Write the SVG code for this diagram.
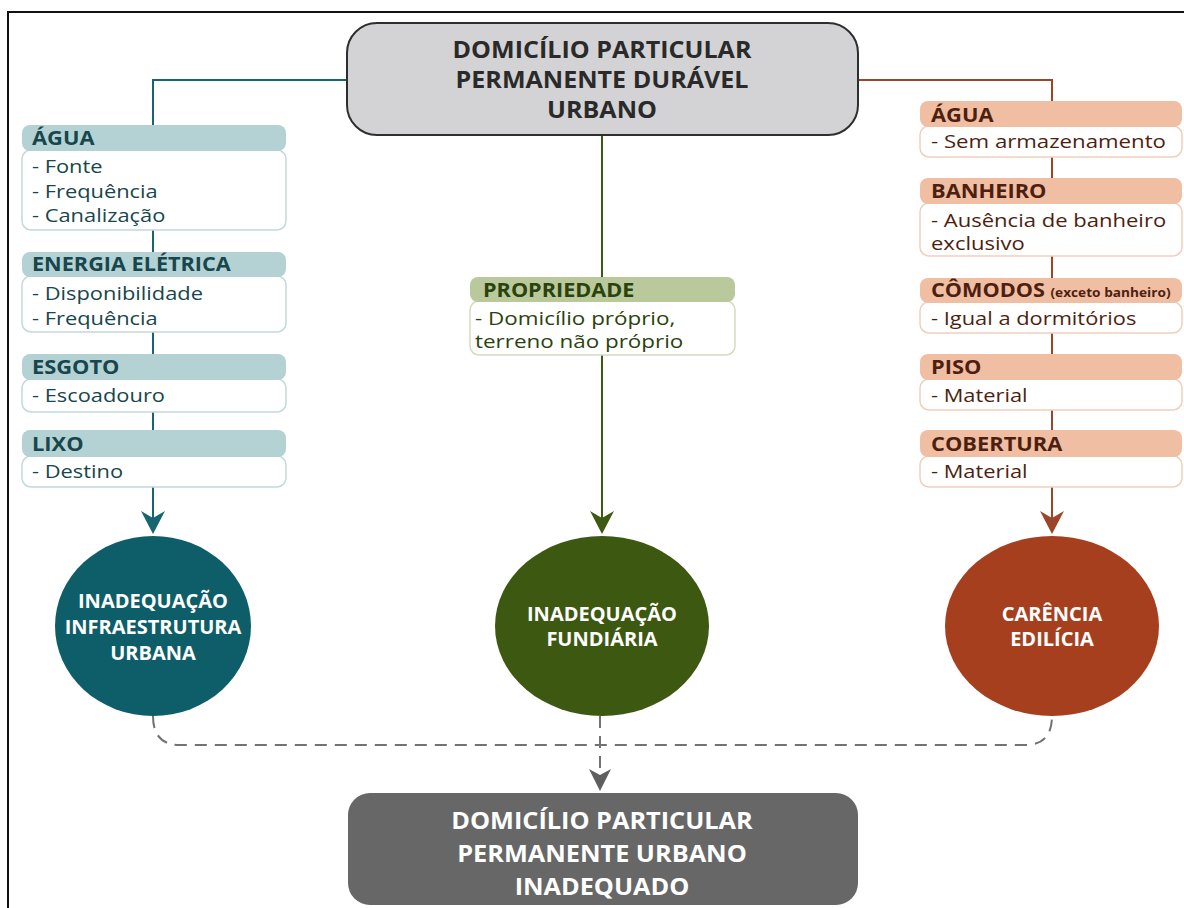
<svg xmlns="http://www.w3.org/2000/svg" width="1184" height="908" viewBox="0 0 1184 908">
<style>
text{font-family:"Open Sans","Liberation Sans",sans-serif}
.t{font-size:23px;font-weight:bold;text-anchor:middle}
.c{font-size:20px;font-weight:bold;text-anchor:middle;fill:#fff}
.h{font-size:19px;font-weight:bold}
.b{font-size:19px}
.hl{fill:#b4d2d3}.bl{fill:#fff;stroke:#c4d9da;stroke-width:1.5}
.hm{fill:#b9c99c}.bm{fill:#fff;stroke:#d3dcc0;stroke-width:1.5}
.hr{fill:#f0bea2}.br{fill:#fff;stroke:#efcfbe;stroke-width:1.5}
.tl{fill:#17464d}.tm{fill:#2b420c}.tr{fill:#4e1e10}
</style>
<rect x="8" y="12" width="1190" height="910" fill="#fff" stroke="#111" stroke-width="2"/>
<g id="connectors" fill="none" stroke-width="2">
<path d="M347,80 H153 V520" stroke="#176570"/>
<path d="M602,135 V520" stroke="#3e5a12"/>
<path d="M858,80 H1052 V520" stroke="#9c4528"/>
<path d="M141,511 L153,534 L165,511 L153,518 Z" fill="#176570" stroke="none"/>
<path d="M590,511 L602,534 L614,511 L602,518 Z" fill="#3e5a12" stroke="none"/>
<path d="M1040,511 L1052,534 L1064,511 L1052,518 Z" fill="#9c4528" stroke="none"/>
<path d="M153,716 Q153,745 180,745 H1025 Q1052,745 1052,716" stroke="#727272" stroke-dasharray="12,8"/>
<path d="M600,716 V780" stroke="#727272" stroke-dasharray="12,8"/>
<path d="M589,769 L600,791 L611,769 L600,775 Z" fill="#5f5f5f" stroke="none"/>
</g>
<g id="top">
<rect x="347" y="23" width="511" height="112" rx="30" fill="#d3d3d5" stroke="#2e2e2e" stroke-width="2"/>
<text class="t" x="0" y="58" fill="#2a2a2a" transform="translate(602 0) scale(1.09 1)">DOMICÍLIO PARTICULAR</text>
<text class="t" x="0" y="88" fill="#2a2a2a" transform="translate(602 0) scale(1.09 1)">PERMANENTE DURÁVEL</text>
<text class="t" x="0" y="118" fill="#2a2a2a" transform="translate(602 0) scale(1.09 1)">URBANO</text>
</g>
<g id="l-agua">
<rect class="bl" x="22" y="150" width="264" height="80" rx="9"/>
<rect class="hl" x="22" y="125" width="264" height="26" rx="8"/>
<text class="h tl" x="0" y="145" transform="translate(32 0) scale(1.15 1)">ÁGUA</text>
<text class="b tl" x="0" y="173" transform="translate(32 0) scale(1.15 1)">- Fonte</text>
<text class="b tl" x="0" y="198" transform="translate(32 0) scale(1.15 1)">- Frequência</text>
<text class="b tl" x="0" y="222" transform="translate(32 0) scale(1.15 1)">- Canalização</text>
</g>
<g id="l-energia">
<rect class="bl" x="22" y="276" width="264" height="56" rx="9"/>
<rect class="hl" x="22" y="252" width="264" height="25" rx="8"/>
<text class="h tl" x="0" y="271" transform="translate(32 0) scale(1.14 1)">ENERGIA ELÉTRICA</text>
<text class="b tl" x="0" y="300" transform="translate(32 0) scale(1.15 1)">- Disponibilidade</text>
<text class="b tl" x="0" y="325" transform="translate(32 0) scale(1.15 1)">- Frequência</text>
</g>
<g id="l-esgoto">
<rect class="bl" x="22" y="379" width="264" height="33" rx="9"/>
<rect class="hl" x="22" y="354" width="264" height="26" rx="8"/>
<text class="h tl" x="0" y="374" transform="translate(32 0) scale(1.15 1)">ESGOTO</text>
<text class="b tl" x="0" y="402" transform="translate(32 0) scale(1.15 1)">- Escoadouro</text>
</g>
<g id="l-lixo">
<rect class="bl" x="22" y="456" width="264" height="31" rx="9"/>
<rect class="hl" x="22" y="430" width="264" height="27" rx="8"/>
<text class="h tl" x="0" y="451" transform="translate(32 0) scale(1.15 1)">LIXO</text>
<text class="b tl" x="0" y="478" transform="translate(32 0) scale(1.15 1)">- Destino</text>
</g>
<g id="m-propriedade">
<rect class="bm" x="470" y="301" width="265" height="54" rx="9"/>
<rect class="hm" x="470" y="277" width="265" height="25" rx="8"/>
<text class="h tm" x="0" y="297" transform="translate(483 0) scale(1.14 1)">PROPRIEDADE</text>
<text class="b tm" x="0" y="325" font-size="18" transform="translate(475 0) scale(1.18 1)">- Domicílio próprio,</text>
<text class="b tm" x="0" y="348" font-size="18" transform="translate(475 0) scale(1.18 1)">terreno não próprio</text>
</g>
<g id="r-agua">
<rect class="br" x="920" y="126" width="262" height="31" rx="9"/>
<rect class="hr" x="920" y="101" width="262" height="26" rx="8"/>
<text class="h tr" x="0" y="122" transform="translate(931 0) scale(1.15 1)">ÁGUA</text>
<text class="b tr" x="0" y="148" transform="translate(931 0) scale(1.17 1)">- Sem armazenamento</text>
</g>
<g id="r-banheiro">
<rect class="br" x="920" y="203" width="262" height="53" rx="9"/>
<rect class="hr" x="920" y="178" width="262" height="26" rx="8"/>
<text class="h tr" x="0" y="198" transform="translate(931 0) scale(1.15 1)">BANHEIRO</text>
<text class="b tr" x="0" y="227" transform="translate(931 0) scale(1.16 1)">- Ausência de banheiro</text>
<text class="b tr" x="0" y="250" transform="translate(931 0) scale(1.16 1)">exclusivo</text>
</g>
<g id="r-comodos">
<rect class="br" x="920" y="302" width="262" height="31" rx="9"/>
<rect class="hr" x="920" y="278" width="262" height="25" rx="8"/>
<text class="h tr" x="0" y="297" transform="translate(931 0) scale(1.14 1)">CÔMODOS <tspan font-size="12">(exceto banheiro)</tspan></text>
<text class="b tr" x="0" y="325" transform="translate(931 0) scale(1.15 1)">- Igual a dormitórios</text>
</g>
<g id="r-piso">
<rect class="br" x="920" y="379" width="262" height="31" rx="9"/>
<rect class="hr" x="920" y="354" width="262" height="26" rx="8"/>
<text class="h tr" x="0" y="374" transform="translate(931 0) scale(1.15 1)">PISO</text>
<text class="b tr" x="0" y="402" transform="translate(931 0) scale(1.15 1)">- Material</text>
</g>
<g id="r-cobertura">
<rect class="br" x="920" y="456" width="262" height="31" rx="9"/>
<rect class="hr" x="920" y="430" width="262" height="27" rx="8"/>
<text class="h tr" x="0" y="451" transform="translate(931 0) scale(1.15 1)">COBERTURA</text>
<text class="b tr" x="0" y="478" transform="translate(931 0) scale(1.15 1)">- Material</text>
</g>
<g id="c-infra">
<ellipse cx="153" cy="626" rx="98" ry="90" fill="#0e5e69"/>
<text class="c" x="153" y="608">INADEQUAÇÃO</text>
<text class="c" x="153" y="634">INFRAESTRUTURA</text>
<text class="c" x="153" y="660">URBANA</text>
</g>
<g id="c-fund">
<ellipse cx="602" cy="626" rx="107" ry="90" fill="#3d5810"/>
<text class="c" x="602" y="621">INADEQUAÇÃO</text>
<text class="c" x="602" y="646">FUNDIÁRIA</text>
</g>
<g id="c-edil">
<ellipse cx="1052" cy="626" rx="107" ry="90" fill="#a63f1e"/>
<text class="c" x="1052" y="621">CARÊNCIA</text>
<text class="c" x="1052" y="646">EDILÍCIA</text>
</g>
<g id="bottom">
<rect x="348" y="793" width="510" height="112" rx="22" fill="#676767"/>
<text class="t" x="0" y="829" fill="#fff" transform="translate(602 0) scale(1.1 1)">DOMICÍLIO PARTICULAR</text>
<text class="t" x="0" y="862" fill="#fff" transform="translate(602 0) scale(1.1 1)">PERMANENTE URBANO</text>
<text class="t" x="0" y="895" fill="#fff" transform="translate(602 0) scale(1.1 1)">INADEQUADO</text>
</g>
</svg>
